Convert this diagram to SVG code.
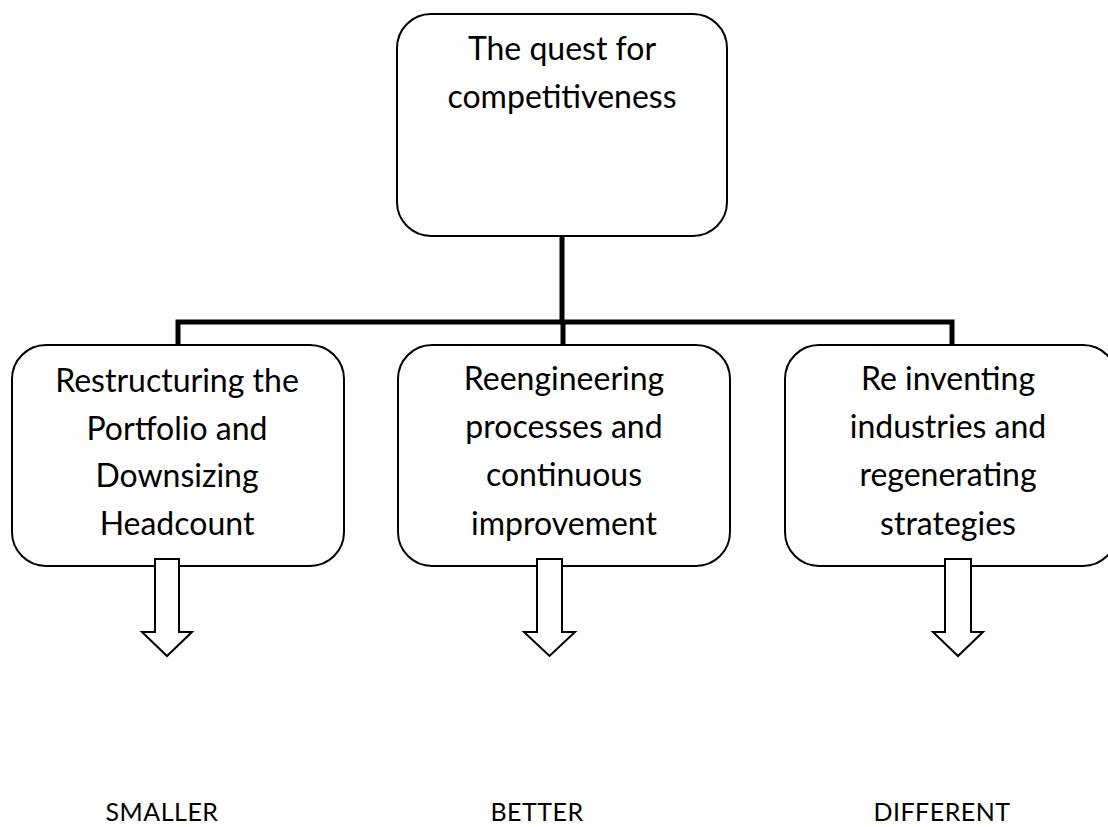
<svg xmlns="http://www.w3.org/2000/svg" width="1108" height="827" viewBox="0 0 1108 827">
<style>
.box{fill:#fff;stroke:#000;stroke-width:2}
.conn{fill:none;stroke:#000;stroke-width:5}
.barrow{fill:#fff;stroke:#000;stroke-width:2;stroke-linejoin:miter}
.t{font-family:Lato,"Liberation Sans",sans-serif;font-size:32px;fill:#000;text-anchor:middle}
.lbl{font-family:Lato,"Liberation Sans",sans-serif;font-size:25px;letter-spacing:0.5px;fill:#000;text-anchor:middle}
</style>
<rect width="1108" height="827" fill="#fff"/>
<g id="connectors">
<path class="conn" d="M562 236 V322 M178 345 V322 H952 V345 M563 322 V345"/>
</g>
<g id="node-top">
<rect class="box" x="397" y="14" width="330" height="222" rx="34" ry="34"/>
<text class="t" x="562" y="60">The quest for</text>
<text class="t" x="562" y="108">competitiveness</text>
</g>
<g id="node-left">
<rect class="box" x="12" y="345" width="332" height="221" rx="34" ry="34"/>
<text class="t" x="177" y="392">Restructuring the</text>
<text class="t" x="177" y="440">Portfolio and</text>
<text class="t" x="177" y="487">Downsizing</text>
<text class="t" x="177" y="535">Headcount</text>
</g>
<g id="node-middle">
<rect class="box" x="398" y="345" width="332" height="221" rx="34" ry="34"/>
<text class="t" x="564" y="390">Reengineering</text>
<text class="t" x="564" y="438">processes and</text>
<text class="t" x="564" y="486">continuous</text>
<text class="t" x="564" y="535">improvement</text>
</g>
<g id="node-right">
<rect class="box" x="785" y="345" width="332" height="221" rx="34" ry="34"/>
<text class="t" x="948" y="390">Re inventing</text>
<text class="t" x="948" y="438">industries and</text>
<text class="t" x="948" y="486">regenerating</text>
<text class="t" x="948" y="535">strategies</text>
</g>
<g id="arrow-left">
<path class="barrow" d="M155 559 H179 V632 H192 L167 656 L142 632 H155 Z"/>
</g>
<g id="arrow-middle">
<path class="barrow" d="M537 559 H562 V632 H575 L549.5 656 L524 632 H537 Z"/>
</g>
<g id="arrow-right">
<path class="barrow" d="M945 559 H971 V632 H983 L958 656 L933 632 H945 Z"/>
</g>
<g id="label-smaller"><text class="lbl" x="162" y="821">SMALLER</text></g>
<g id="label-better"><text class="lbl" x="537" y="821">BETTER</text></g>
<g id="label-different"><text class="lbl" x="942" y="821">DIFFERENT</text></g>
</svg>
